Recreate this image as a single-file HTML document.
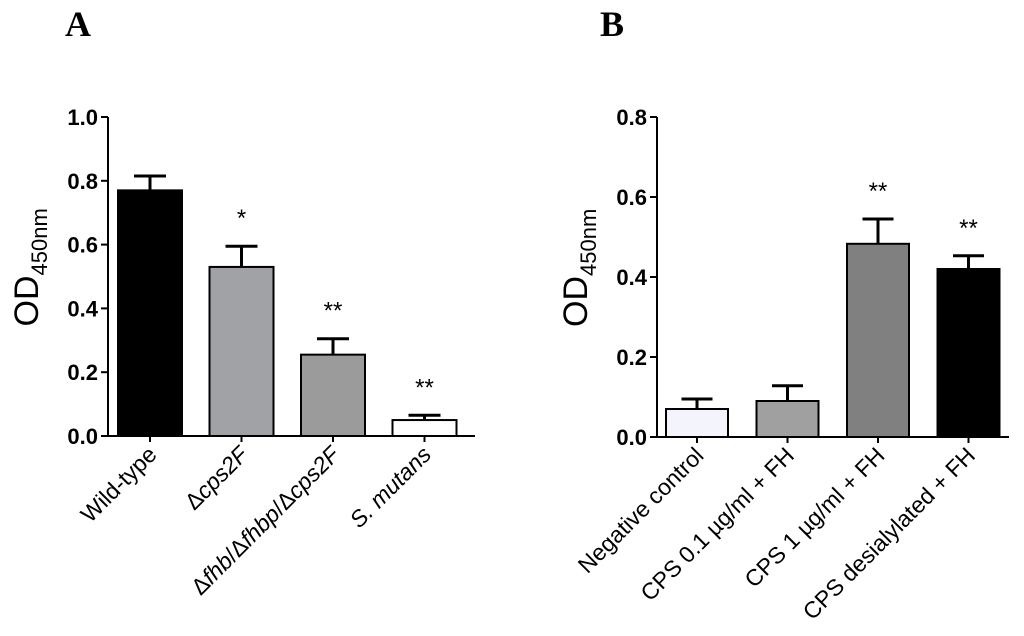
<!DOCTYPE html>
<html><head><meta charset="utf-8"><style>
body{margin:0;background:#fff;}
svg{display:block;font-family:"Liberation Sans",Arial,sans-serif;}
</style></head><body>
<svg id="chart" width="1024" height="636" viewBox="0 0 1024 636">
<text x="65" y="36" font-family="Liberation Serif" font-weight="bold" font-size="36">A</text>
<text x="600" y="36" font-family="Liberation Serif" font-weight="bold" font-size="36">B</text>
</svg>
<script>
const catsA = ["Wild-type", "Δcps2F", "Δfhb/Δfhbp/Δcps2F", "S. mutans"];
const valsA = [0.77, 0.53, 0.255, 0.05];
const errA = [0.045, 0.065, 0.05, 0.015];
const starsA = ["", "*", "**", "**"];
const ticksA = [0, 0.2, 0.4, 0.6, 0.8, 1.0];
const catsB = ["Negative control", "CPS 0.1 µg/ml + FH", "CPS 1 µg/ml + FH", "CPS desialylated + FH"];
const valsB = [0.07, 0.09, 0.483, 0.42];
const errB = [0.025, 0.038, 0.062, 0.033];
const starsB = ["", "", "**", "**"];
const ticksB = [0, 0.2, 0.4, 0.6, 0.8];

const svg = document.getElementById('chart');
const NS = "http://www.w3.org/2000/svg";
function mk(tag, attrs, parent){const e=document.createElementNS(NS,tag);for(const k in attrs)e.setAttribute(k,attrs[k]);(parent||svg).appendChild(e);return e;}

function panel(p){
  const g = mk('g',{});
  
  
  const y = v => p.y0 - (v / p.max) * (p.y0 - p.y1);
  const xc = i => p.x0 + p.pad + i * p.step;
  p.cats.forEach((c,i)=>{
    const top=y(p.vals[i]), bw=p.bw, cx=xc(i);
    const eTop=y(p.vals[i]+p.errs[i]);
    const el=mk('line',{x1:cx,x2:cx,y1:top,y2:eTop,stroke:'#000','stroke-width':3},g);
    
    
    const cap=mk('line',{x1:cx-bw*0.25,x2:cx+bw*0.25,y1:eTop,y2:eTop,stroke:'#000','stroke-width':3},g);
    
    
    const r=mk('rect',{x:cx-bw/2,y:top,width:bw,height:p.y0-top,fill:p.colors[i],stroke:'#000','stroke-width':2},g);
    
    
    if(p.stars[i]){
      const s=mk('text',{x:cx,y:eTop-20,'text-anchor':'middle','font-size':24},g);
      s.textContent=p.stars[i];
      
      
    }
    mk('line',{x1:cx,x2:cx,y1:p.y0,y2:p.y0+6,stroke:'#000','stroke-width':2},g);
    const t=mk('text',{transform:`translate(${cx+8},${p.y0+20}) rotate(-45)`,'text-anchor':'end','font-size':23},g);
    
    
    if(p.italic && c.indexOf('Δ')>=0){
      c.split('/').forEach((part,j)=>{
        if(j>0){const sl=mk('tspan',{},t);sl.textContent='/';}
        const d=mk('tspan',{},t);d.textContent='Δ';
        const it=mk('tspan',{'font-style':'italic'},t);it.textContent=part.replace('Δ','');
      });
    } else {
      if(p.italic && c==="S. mutans") t.setAttribute('font-style','italic');
      t.textContent=c;
    }
  });
  const ax=mk('path',{d:`M${p.x0},${p.y1} V${p.y0} H${p.x0+p.w}`,stroke:'#000','stroke-width':2,fill:'none'},g);
  
  
  p.ticks.forEach(v=>{
    const yy=y(v);
    mk('line',{x1:p.x0-7,x2:p.x0,y1:yy,y2:yy,stroke:'#000','stroke-width':2},g);
    const t=mk('text',{x:p.x0-10,y:yy+8,'text-anchor':'end','font-size':22,'font-weight':'bold'},g);
    t.textContent=v.toFixed(1);
    
    
  });
  const yl=mk('text',{transform:`translate(${p.x0-70},${(p.y0+p.y1)/2+50}) rotate(-90)`,'font-size':34},g);
  
  
  const a=mk('tspan',{},yl);a.textContent='OD';
  const b=mk('tspan',{'font-size':22,dy:9},yl);b.textContent='450nm';
}
panel({name:'panel-a',cats:catsA,vals:valsA,errs:errA,stars:starsA,ticks:ticksA,max:1.0,x0:108,y0:436,y1:117,w:367,pad:42,step:91.5,bw:64,italic:true,colors:['#000','#a0a2a6','#9b9b9b','#fff']});
panel({name:'panel-b',cats:catsB,vals:valsB,errs:errB,stars:starsB,ticks:ticksB,max:0.8,x0:657,y0:437,y1:117,w:352,pad:40,step:90.5,bw:62,italic:false,colors:['#f4f4fc','#a0a0a0','#808080','#000']});
</script>
</body></html>
